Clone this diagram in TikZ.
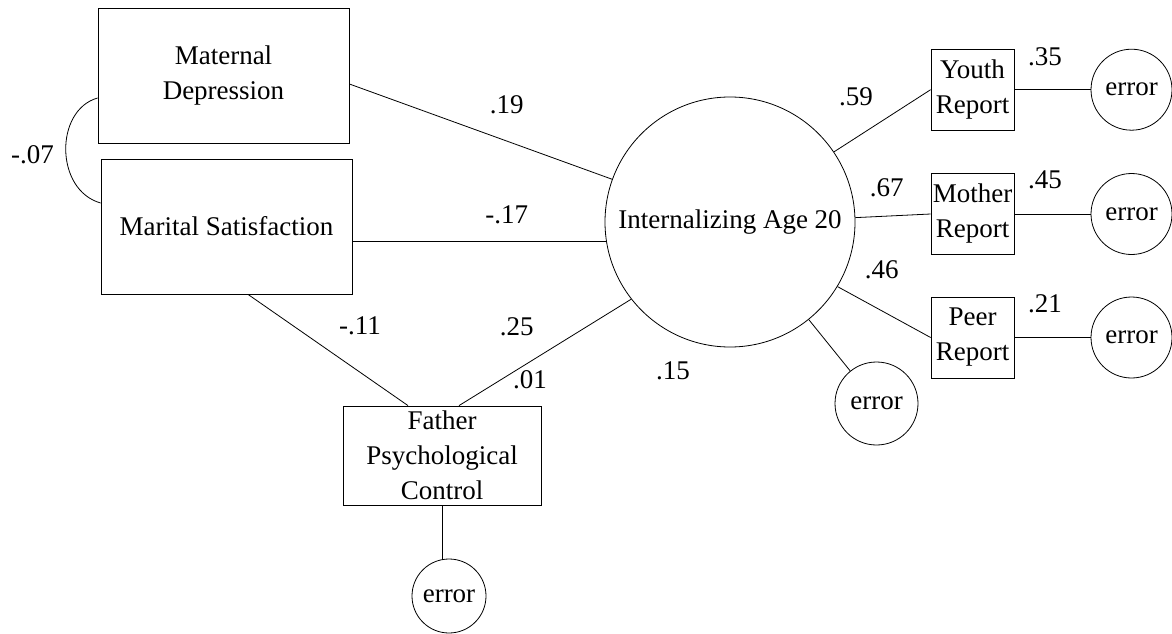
\documentclass[tikz,border=0pt]{standalone}
\usepackage{fontspec}
\setmainfont{Liberation Serif}
\tikzset{
    obs-box/.style = {draw, rectangle, align=center, inner sep=1pt, font=\fontsize{27}{35}\selectfont},
    latent-circle/.style = {draw, circle, inner sep=0pt, font=\fontsize{27}{35}\selectfont},
    path-label/.style = {inner sep=0pt, font=\fontsize{27}{35}\selectfont},
}

\begin{document}
\begin{tikzpicture}[x=1pt, y=-1pt, line width=0.8pt]
\useasboundingbox (0,0) rectangle (1172,634);

\node [obs-box, minimum width=251pt, minimum height=135pt] (matdep) at (223.5,75.5) {Maternal\\Depression};
\node [obs-box, minimum width=251pt, minimum height=135pt] (marsat) at (226.5,226.5) {Marital Satisfaction};
\node [obs-box, minimum width=198pt, minimum height=99pt] (father) at (442,455.5) {Father\\Psychological\\Control};
\node [latent-circle, minimum size=74pt] (ferr) at (449,596) {error};

\node [latent-circle, minimum size=250pt] (intern) at (730,222) {Internalizing Age 20};
\node [latent-circle, minimum size=83pt] (ierr) at (876.5,403.5) {error};

\node [obs-box, minimum width=83pt, minimum height=81pt] (youth) at (972.5,89.7) {Youth\\Report};
\node [obs-box, minimum width=83pt, minimum height=81pt] (mother) at (972.5,214) {Mother\\Report};
\node [obs-box, minimum width=83pt, minimum height=81pt] (peer) at (972.5,337.5) {Peer\\Report};
\node [latent-circle, minimum size=81pt] (yerr) at (1131.5,89.7) {error};
\node [latent-circle, minimum size=81pt] (merr) at (1131.5,214) {error};
\node [latent-circle, minimum size=81pt] (perr) at (1131.5,337.5) {error};

\draw ([yshift=-22.5pt]matdep.west) .. controls +(-43,12) and +(-46,-13) .. ([yshift=23.5pt]marsat.west);
\draw ([yshift=-8.5pt]matdep.east) -- (intern);
\draw (intern.189) -- (intern.189 -| marsat.east);
\draw ([xshift=21.5pt]marsat.south) -- ([xshift=-34pt]father.north);
\draw ([xshift=17pt]father.north) -- (intern.218);
\draw (father.south) -- (father.south |- ferr.north);
\draw (intern) -- (ierr);
\draw (intern.34) -- (youth.west);
\draw (intern.2) -- (mother.west);
\draw (intern.-31) -- (peer.west);
\draw (youth) -- (yerr);
\draw (mother) -- (merr);
\draw (peer) -- (perr);

\node [path-label] (l07) at (32.5,155) {-.07};
\node [path-label] (l19) at (506.7,105) {.19};
\node [path-label] (l17) at (506.7,215) {-.17};
\node [path-label] (l11) at (360,326) {-.11};
\node [path-label] (l25) at (516.7,326.7) {.25};
\node [path-label] (l01) at (530,380) {.01};
\node [path-label] (l15) at (673,371) {.15};
\node [path-label] (l59) at (856,97) {.59};
\node [path-label] (l67) at (886.7,188) {.67};
\node [path-label] (l46) at (881.7,270) {.46};
\node [path-label] (l35) at (1045,56.7) {.35};
\node [path-label] (l45) at (1045,180) {.45};
\node [path-label] (l21) at (1045,304) {.21};
\end{tikzpicture}
\end{document}
